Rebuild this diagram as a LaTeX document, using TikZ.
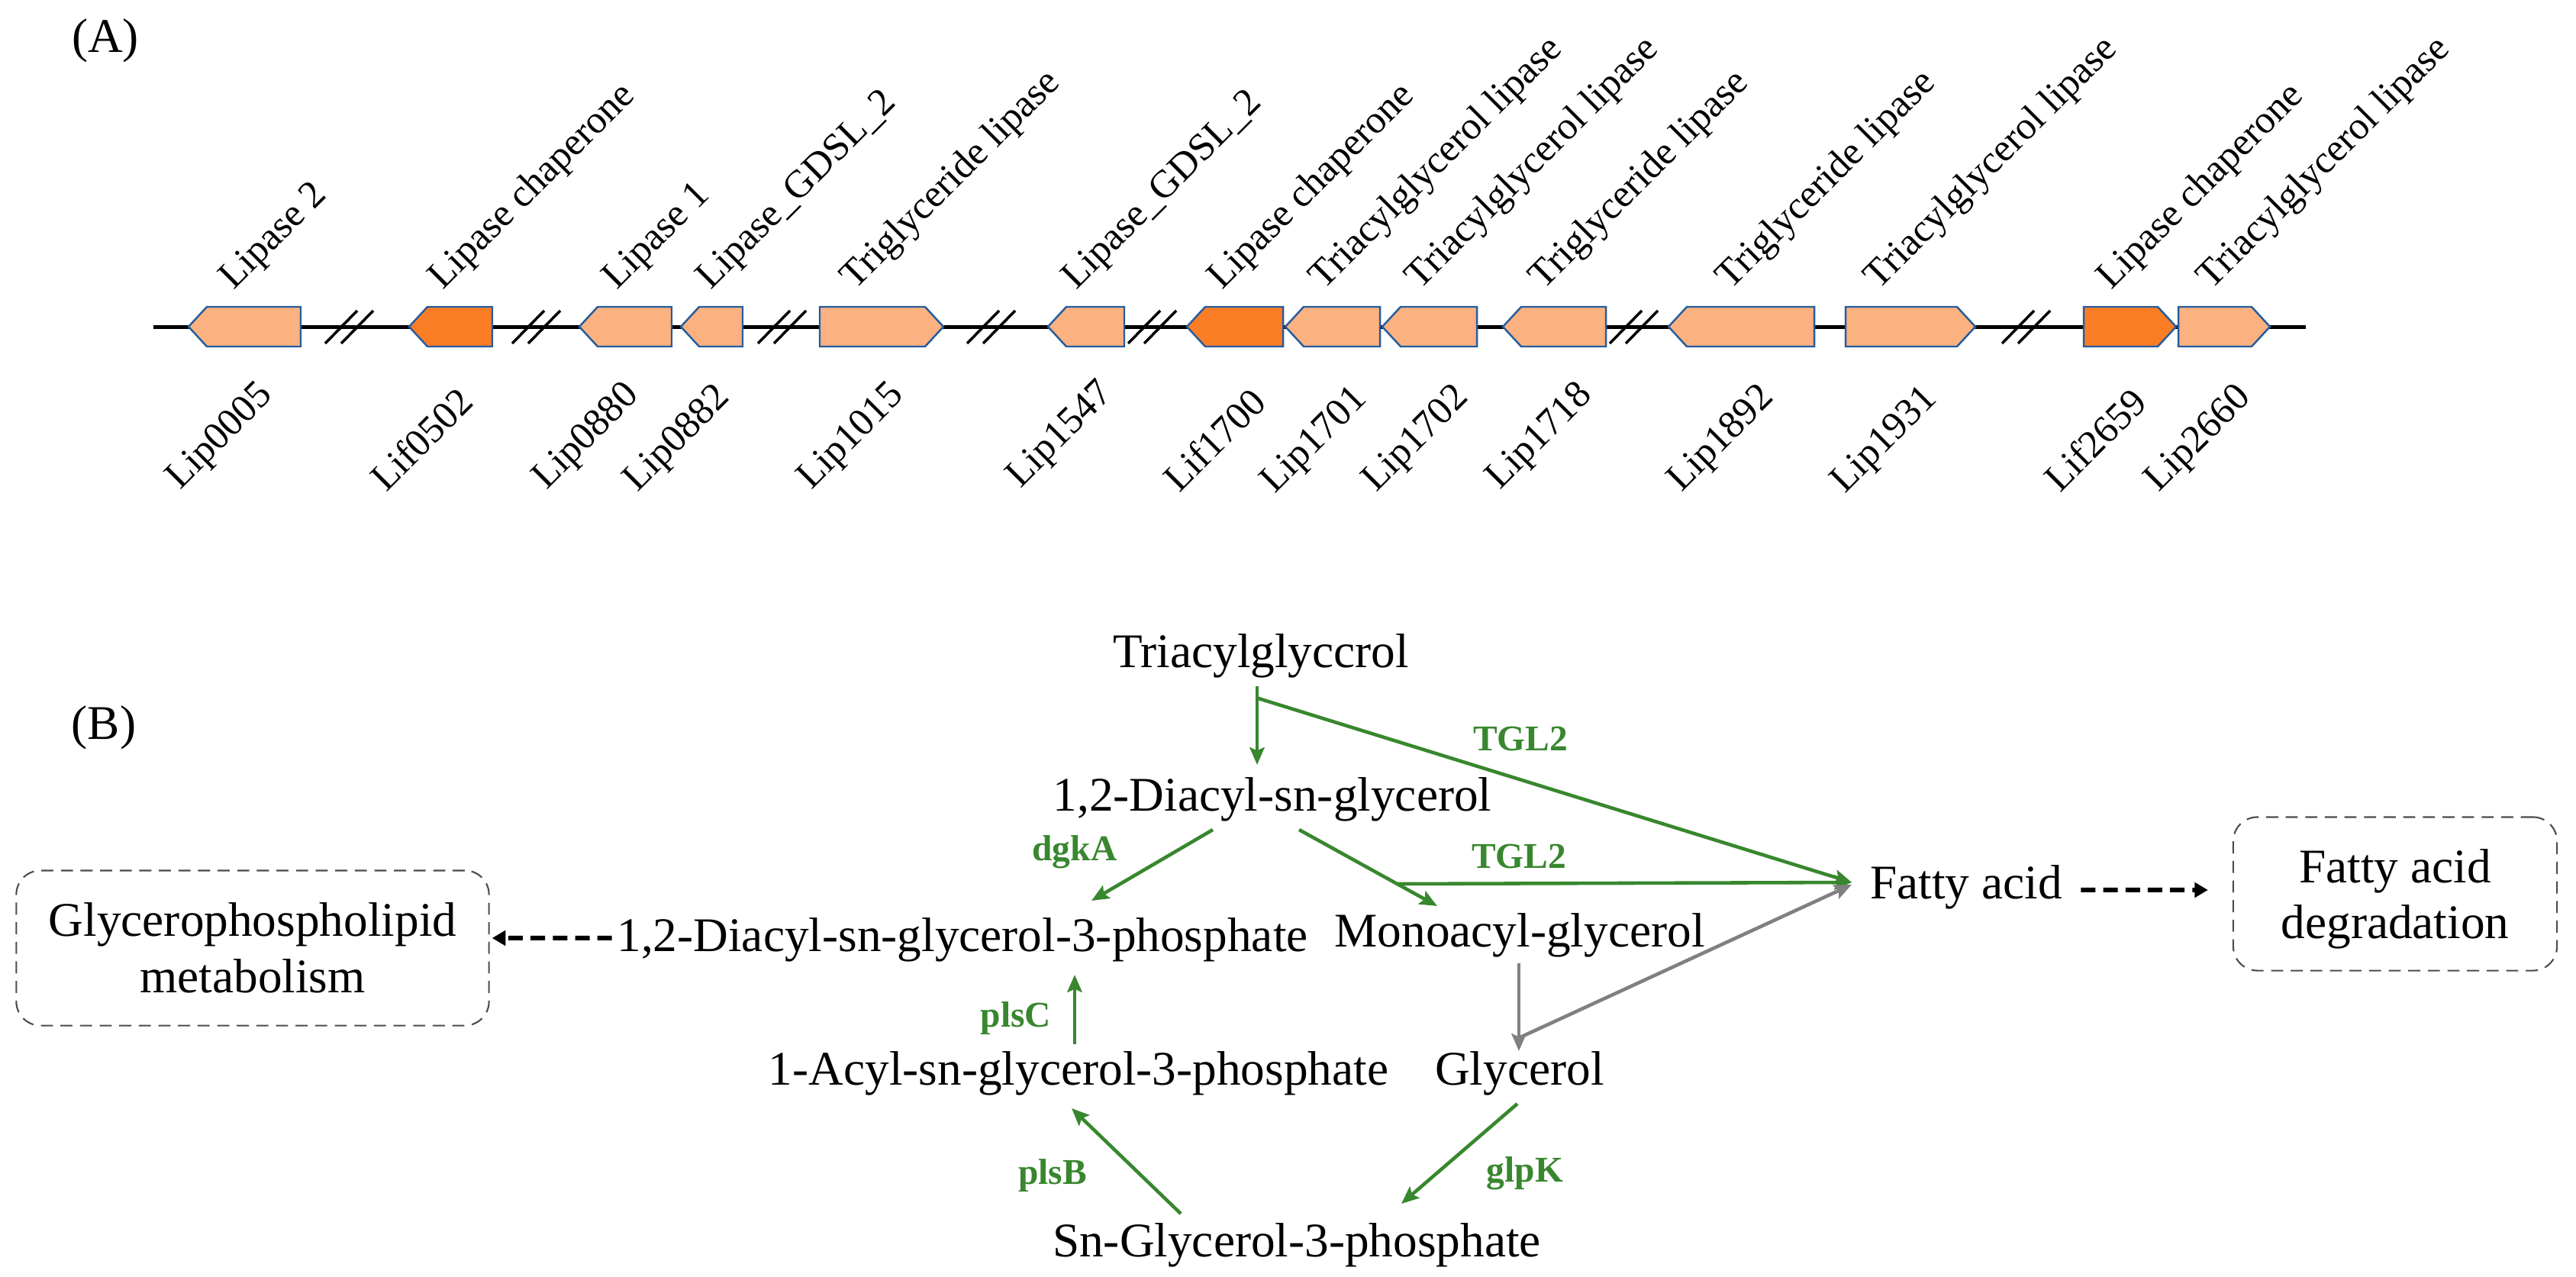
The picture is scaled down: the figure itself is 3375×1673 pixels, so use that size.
\documentclass[tikz,border=0pt]{standalone}
\usepackage{fontspec}
\setmainfont{Liberation Serif}
\usetikzlibrary{arrows.meta,calc}
\definecolor{lipLight}{RGB}{251,177,128}
\definecolor{lipDark}{RGB}{250,125,38}
\definecolor{lipEdge}{RGB}{38,92,158}
\definecolor{enzGreen}{RGB}{56,135,46}
\definecolor{routeGray}{RGB}{128,128,128}

\begin{document}
\begin{tikzpicture}[x=0.01cm, y=-0.01cm,
    cmpd/.style = {inner sep=0pt, anchor=base, font=\fontsize{18}{21.3}\selectfont},
    enz/.style = {inner sep=0pt, anchor=base, text=enzGreen, font=\fontsize{13.5}{16}\selectfont\bfseries},
    mapbox/.style = {draw=black!70, line width=0.6pt, dash pattern=on 4.5pt off 2.8pt, rounded corners=9pt, align=center, inner sep=0pt, font=\fontsize{18}{21}\selectfont},
    react/.style = {draw=enzGreen, line width=1.3pt, -{Stealth[length=6.5pt,width=5.5pt,inset=1.2pt]}},
    grayflow/.style = {draw=routeGray, line width=1.3pt, -{Stealth[length=6.5pt,width=5.5pt,inset=1.2pt]}},
    maplink/.style = {draw=black, line width=1.7pt, dash pattern=on 5.4pt off 2.9pt, -{Triangle[length=5pt,width=5.5pt]}},
    lightgene/.style = {draw=lipEdge, line width=0.7pt, fill=lipLight},
    darkgene/.style = {draw=lipEdge, line width=0.7pt, fill=lipDark},
    brk/.style = {draw=black, line width=1pt},
    toplab/.style = {inner sep=0pt, anchor=base west, rotate=45, font=\fontsize{14.5}{17}\selectfont},
    botlab/.style = {inner sep=0pt, anchor=north east, rotate=45, font=\fontsize{14.5}{17}\selectfont}]
    \useasboundingbox (0,0) rectangle (3375,1673);

    % (A) lipase gene map
    \node[cmpd] (panelA) at (138,69) {(A)};
    \draw[line width=1.4pt] (201,428.5) -- (3021,428.5);
    \foreach \c in {458,703,1025,1299,1510,2141,2655}
        \draw[brk] (\c-32,450) -- ++(42,-43) (\c-11,450) -- ++(42,-43);

    \draw[lightgene] (247,428) -- (271,402) -- (394,402) -- (394,454) -- (271,454) -- cycle;
    \draw[darkgene]  (536,428) -- (560,402) -- (645,402) -- (645,454) -- (560,454) -- cycle;
    \draw[lightgene] (759,428) -- (783,402) -- (880,402) -- (880,454) -- (783,454) -- cycle;
    \draw[lightgene] (892,428) -- (916,402) -- (973,402) -- (973,454) -- (916,454) -- cycle;
    \draw[lightgene] (1074,402) -- (1212,402) -- (1236,428) -- (1212,454) -- (1074,454) -- cycle;
    \draw[lightgene] (1373,428) -- (1397,402) -- (1473,402) -- (1473,454) -- (1397,454) -- cycle;
    \draw[darkgene]  (1555,428) -- (1579,402) -- (1681,402) -- (1681,454) -- (1579,454) -- cycle;
    \draw[lightgene] (1684,428) -- (1708,402) -- (1808,402) -- (1808,454) -- (1708,454) -- cycle;
    \draw[lightgene] (1811,428) -- (1835,402) -- (1935,402) -- (1935,454) -- (1835,454) -- cycle;
    \draw[lightgene] (1969,428) -- (1993,402) -- (2104,402) -- (2104,454) -- (1993,454) -- cycle;
    \draw[lightgene] (2186,428) -- (2210,402) -- (2377,402) -- (2377,454) -- (2210,454) -- cycle;
    \draw[lightgene] (2418,402) -- (2564,402) -- (2588,428) -- (2564,454) -- (2418,454) -- cycle;
    \draw[darkgene]  (2730,402) -- (2827,402) -- (2851,428) -- (2827,454) -- (2730,454) -- cycle;
    \draw[lightgene] (2854,402) -- (2950,402) -- (2974,428) -- (2950,454) -- (2854,454) -- cycle;

    % annotations above the genes
    \node[toplab] (a0005) at (306,381) {Lipase 2};
    \node[toplab] (a0502) at (580,381) {Lipase chaperone};
    \node[toplab] (a0880) at (808,381) {Lipase 1};
    \node[toplab] (a0882) at (931,381) {Lipase\_GDSL\_2};
    \node[toplab] (a1015) at (1120,381) {Triglyceride lipase};
    \node[toplab] (a1547) at (1410,381) {Lipase\_GDSL\_2};
    \node[toplab] (a1700) at (1601,381) {Lipase chaperone};
    \node[toplab] (a1701) at (1734,381) {Triacylglycerol lipase};
    \node[toplab] (a1702) at (1860,381) {Triacylglycerol lipase};
    \node[toplab] (a1718) at (2022,381) {Triglyceride lipase};
    \node[toplab] (a1892) at (2267,381) {Triglyceride lipase};
    \node[toplab] (a1931) at (2461,381) {Triacylglycerol lipase};
    \node[toplab] (a2659) at (2766,381) {Lipase chaperone};
    \node[toplab] (a2660) at (2897,381) {Triacylglycerol lipase};

    % gene ids below
    \node[botlab] (g0005) at (335,495) {Lip0005};
    \node[botlab] (g0502) at (597,503) {Lif0502};
    \node[botlab] (g0880) at (815,495) {Lip0880};
    \node[botlab] (g0882) at (934,498) {Lip0882};
    \node[botlab] (g1015) at (1162,495) {Lip1015};
    \node[botlab] (g1547) at (1436,493) {Lip1547};
    \node[botlab] (g1700) at (1636,504) {Lif1700};
    \node[botlab] (g1701) at (1769,500) {Lip1701};
    \node[botlab] (g1702) at (1902,498) {Lip1702};
    \node[botlab] (g1718) at (2064,495) {Lip1718};
    \node[botlab] (g1892) at (2302,498) {Lip1892};
    \node[botlab] (g1931) at (2516,500) {Lip1931};
    \node[botlab] (g2659) at (2790,504) {Lif2659};
    \node[botlab] (g2660) at (2927,498) {Lip2660};

    % (B) pathway
    \node[cmpd] (panelB) at (136,968) {(B)};
    \node[cmpd] (tag)  at (1652,874)  {Triacylglyccrol};
    \node[cmpd] (dag)  at (1667,1062) {1,2-Diacyl-sn-glycerol};
    \node[cmpd] (dagp) at (1261,1246) {1,2-Diacyl-sn-glycerol-3-phosphate};
    \node[cmpd] (mag)  at (1991,1240) {Monoacyl-glycerol};
    \node[cmpd] (fa)   at (2576,1177) {Fatty acid};
    \node[cmpd] (aag)  at (1413,1421) {1-Acyl-sn-glycerol-3-phosphate};
    \node[cmpd] (gly)  at (1991,1421) {Glycerol};
    \node[cmpd] (sgp)  at (1699,1646) {Sn-Glycerol-3-phosphate};
    \node[mapbox, minimum width=6.19cm, minimum height=2.03cm] (gpl) at (331,1242) {Glycerophospholipid\\metabolism};
    \node[mapbox, minimum width=4.24cm, minimum height=2.01cm] (fad) at (3138,1171) {Fatty acid\\\raisebox{0pt}[\height][0pt]{degradation}};

    \coordinate (faIn) at ($(fa.base)+(-150,-21)$);

    % reactions
    \draw[react] ($(tag.base)+(-5,25)$) -- coordinate[pos=0.15] (tagFork) ($(dag.base)+(-20,-60)$);
    \draw[react] (tagFork) -- (faIn);
    \draw[react] ($(dag.base)+(-78,25)$) -- ($(dagp.base)+(169,-66)$);
    \draw[react] ($(dag.base)+(35,25)$) -- coordinate[pos=0.71] (dagFork) ($(mag.base)+(-108,-53)$);
    \draw[react] (dagFork) -- (faIn);
    \draw[react] ($(aag.base)+(-5,-53)$) -- ($(dagp.base)+(147,31)$);
    \draw[react] ($(gly.base)+(-3,25)$) -- ($(sgp.base)+(137,-69)$);
    \draw[react] ($(sgp.base)+(-152,-56)$) -- ($(aag.base)+(-9,31)$);
    \draw[grayflow] ($(mag.base)+(-1,22)$) -- coordinate[pos=0.85] (glyFork) ($(gly.base)+(-1,-44)$);
    \draw[grayflow] (glyFork) -- ($(faIn)+(0,3)$);

    \node[enz] (tgl2a) at (1992,983)  {TGL2};
    \node[enz] (tgl2b) at (1990,1137) {TGL2};
    \node[enz] (dgka)  at (1408,1127) {dgkA};
    \node[enz] (plsc)  at (1331,1345) {plsC};
    \node[enz] (plsb)  at (1379,1551) {plsB};
    \node[enz] (glpk)  at (1998,1548) {glpK};

    % links to other pathways
    \draw[maplink] ($(dagp.west)+(-6,-2)$) -- ($(gpl.east)+(3,-13)$);
    \draw[maplink] ($(fa.east)+(24,4)$) -- ($(fad.west)+(-32,-5)$);
\end{tikzpicture}
\end{document}
